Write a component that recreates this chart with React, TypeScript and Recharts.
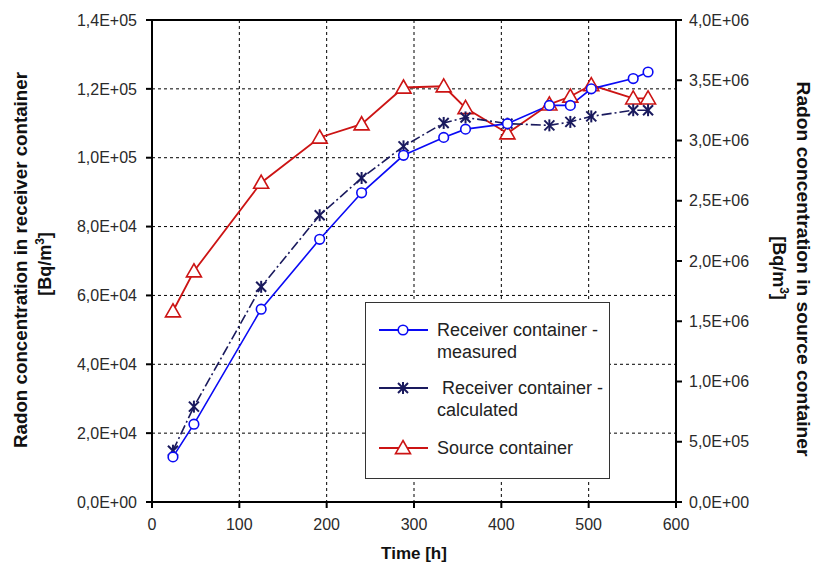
import React from 'react';
import {
  LineChart,
  Line,
  XAxis,
  YAxis,
  CartesianGrid,
  ReferenceLine,
} from 'recharts';

const times = [24, 48, 125, 192, 240, 288, 334, 359, 407, 455, 479, 503, 551, 568];
const measured = [13100, 22600, 56000, 76300, 89800, 100700, 105900, 108300, 109900, 115200, 115200, 120000, 123000, 124900];
const calculated = [14900, 27700, 62500, 83300, 94100, 103300, 110100, 111700, 109900, 109400, 110400, 112000, 113800, 113800];
const source = [1583000, 1915000, 2650000, 3025000, 3135000, 3440000, 3450000, 3270000, 3060000, 3300000, 3365000, 3460000, 3350000, 3350000];

const xTicks = [0, 100, 200, 300, 400, 500, 600];
const leftTicks = [0, 20000, 40000, 60000, 80000, 100000, 120000, 140000];
const rightTicks = [0, 500000, 1000000, 1500000, 2000000, 2500000, 3000000, 3500000, 4000000];

const data = times.map((t, i) => ({
  t,
  measured: measured[i],
  calculated: calculated[i],
  source: source[i],
}));

const FONT = 'Arial, "Liberation Sans", sans-serif';
const BLUE = '#0a0af5';
const NAVY = '#1a1a5e';
const RED = '#cc1414';
const TICK = { fill: '#2a2a2a', fontSize: 16, fontFamily: FONT };

const sci = (v: number) => {
  const [m, e] = v.toExponential(1).split('e');
  const exp = Math.abs(parseInt(e, 10)).toString().padStart(2, '0');
  return `${m.replace('.', ',')}E${parseInt(e, 10) < 0 ? '-' : '+'}${exp}`;
};

const Circle = (props: any) => {
  const { cx, cy } = props;
  if (cx == null || cy == null) return null;
  return <circle cx={cx} cy={cy} r={4.8} fill="#fff" stroke={BLUE} strokeWidth={1.6} />;
};

const Star = (props: any) => {
  const { cx, cy } = props;
  if (cx == null || cy == null) return null;
  const s = 5;
  return (
    <g stroke={NAVY} strokeWidth={2}>
      <line x1={cx - s} y1={cy - s} x2={cx + s} y2={cy + s} />
      <line x1={cx - s} y1={cy + s} x2={cx + s} y2={cy - s} />
      <line x1={cx} y1={cy - s - 1} x2={cx} y2={cy + s + 1} />
    </g>
  );
};

const Tri = (props: any) => {
  const { cx, cy } = props;
  if (cx == null || cy == null) return null;
  const s = 7.5;
  return (
    <polygon
      points={`${cx},${cy - s} ${cx + s},${cy + s * 0.75} ${cx - s},${cy + s * 0.75}`}
      fill="#fff"
      stroke={RED}
      strokeWidth={1.6}
    />
  );
};

const LegendBox = () => {
  const row = (marker: React.ReactNode, color: string, lines: string[], top: number) => (
    <div style={{ position: 'absolute', left: 10, top, display: 'flex' }}>
      <svg width={52} height={22}>
        <line x1={3} y1={11} x2={52} y2={11} stroke={color} strokeWidth={2} />
        {marker}
      </svg>
      <div style={{ marginLeft: 9, lineHeight: '22px' }}>
        {lines.map((l) => (
          <div key={l} style={{ whiteSpace: 'pre' }}>{l}</div>
        ))}
      </div>
    </div>
  );
  return (
    <div
      style={{
        position: 'absolute',
        left: 365,
        top: 302,
        width: 245,
        height: 177,
        border: '1.5px solid #333',
        background: '#fff',
        fontFamily: FONT,
        fontSize: 18,
        color: '#222',
        boxSizing: 'border-box',
      }}
    >
      {row(<Circle cx={27} cy={11} />, BLUE, ['Receiver container -', 'measured'], 16)}
      {row(<Star cx={27} cy={11} />, NAVY, [' Receiver container -', 'calculated'], 74)}
      {row(<Tri cx={27} cy={11} />, RED, ['Source container'], 134)}
    </div>
  );
};

const LeftTitle = () => (
  <g fontFamily={FONT} fontSize={18} fontWeight="bold" fill="#111" textAnchor="middle">
    <text transform="translate(27,260) rotate(-90)" textLength={376} lengthAdjust="spacingAndGlyphs">
      Radon concentration in receiver container
    </text>
    <text transform="translate(51,264) rotate(-90)">
      [Bq/m<tspan dy={-7} fontSize={12}>3</tspan><tspan dy={7}>]</tspan>
    </text>
  </g>
);

const RightTitle = () => (
  <g fontFamily={FONT} fontSize={18} fontWeight="bold" fill="#111" textAnchor="middle">
    <text transform="translate(797,269) rotate(90)" textLength={375} lengthAdjust="spacingAndGlyphs">
      Radon concentration in source container
    </text>
    <text transform="translate(773,268) rotate(90)">
      [Bq/m<tspan dy={-7} fontSize={12}>3</tspan><tspan dy={7}>]</tspan>
    </text>
  </g>
);

export default function App() {
  return (
    <div style={{ position: 'absolute', left: 0, top: 0, width: 817, height: 564, background: '#fff' }}>
      <LineChart width={817} height={564} data={data} margin={{ top: 20, right: 0, left: 0, bottom: 0 }}>
        <CartesianGrid stroke="#000" strokeDasharray="3 3" strokeWidth={1} />
        <XAxis
          dataKey="t"
          type="number"
          domain={[0, 600]}
          ticks={xTicks}
          height={62}
          stroke="#000"
          strokeWidth={2}
          tickSize={6}
          tickMargin={11}
          tick={TICK}
          label={{ value: 'Time [h]', position: 'insideBottom', offset: 5, style: { fontFamily: FONT, fontSize: 17, fontWeight: 'bold', fill: '#111' } }}
        />
        <YAxis
          domain={[0, 140000]}
          ticks={leftTicks}
          width={152}
          stroke="#000"
          strokeWidth={2}
          tickSize={6}
          tickMargin={9}
          tickFormatter={sci}
          tick={TICK}
          label={{ content: () => <LeftTitle /> }}
        />
        <YAxis
          yAxisId="right"
          orientation="right"
          domain={[0, 4000000]}
          ticks={rightTicks}
          width={141}
          stroke="#000"
          strokeWidth={2}
          tickSize={6}
          tickMargin={7}
          tickFormatter={sci}
          tick={TICK}
          label={{ content: () => <RightTitle /> }}
        />
        <ReferenceLine y={140000} stroke="#000" strokeWidth={2} />
        <Line
          dataKey="source"
          yAxisId="right"
          stroke={RED}
          strokeWidth={1.8}
          dot={<Tri />}
          isAnimationActive={false}
        />
        <Line
          dataKey="calculated"
          stroke={NAVY}
          strokeWidth={1.6}
          strokeDasharray="10 3 2 3"
          dot={<Star />}
          isAnimationActive={false}
        />
        <Line
          dataKey="measured"
          stroke={BLUE}
          strokeWidth={1.6}
          dot={<Circle />}
          isAnimationActive={false}
        />
      </LineChart>
      <LegendBox />
    </div>
  );
}
